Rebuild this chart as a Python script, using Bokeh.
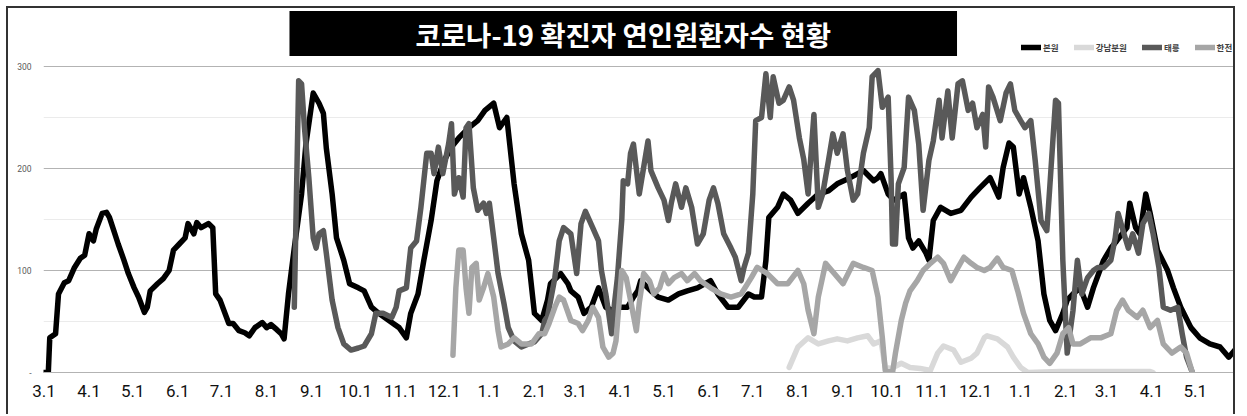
from bokeh.plotting import figure
from bokeh.models import FixedTicker, Label, Legend, LegendItem, ColumnDataSource
from bokeh.embed import file_html
from bokeh.resources import INLINE

# ---------------- data (x = days since 2020-03-01) ----------------
tick_days = [0, 31, 61, 92, 122, 153, 184, 214, 245, 275, 306, 337, 365,
             396, 426, 457, 487, 518, 549, 579, 610, 640, 671, 702, 730, 761, 791]
tick_labels = ["3.1", "4.1", "5.1", "6.1", "7.1", "8.1", "9.1", "10.1", "11.1",
               "12.1", "1.1", "2.1", "3.1", "4.1", "5.1", "6.1", "7.1", "8.1",
               "9.1", "10.1", "11.1", "12.1", "1.1", "2.1", "3.1", "4.1", "5.1"]

series_names = ["본원", "강남분원", "태릉", "한전"]
series_colors = ["#000000", "#d9d9d9", "#595959", "#a6a6a6"]

bon_day = [0, 3, 4, 8, 10, 14, 17, 21, 25, 28, 31, 34, 36, 40, 43, 45, 48, 51, 55, 58, 62, 65, 69, 71,
           73, 78, 82, 86, 89, 93, 97, 99, 103, 105, 108, 113, 116, 118, 121, 127, 130, 134, 138,
           141, 145, 150, 153, 156, 160, 163, 165, 168, 172, 177, 180, 185, 189, 192, 194, 198,
           201, 206, 210, 216, 220, 225, 230, 237, 244, 249, 252, 257, 261, 266, 270, 275, 280,
           285, 292, 298, 303, 309, 313, 318, 320, 323, 328, 333, 337, 342, 346, 348, 355, 360,
           362, 367, 371, 376, 381, 386, 390, 394, 401, 405, 408, 410, 417, 422, 429, 436, 442,
           449, 458, 463, 470, 477, 484, 488, 493, 496, 498, 504, 508, 513, 518, 525, 532, 539,
           545, 554, 563, 570, 573, 575, 580, 584, 591, 594, 597, 601, 606, 608, 611, 616, 623,
           630, 637, 643, 650, 656, 659, 663, 666, 670, 673, 678, 683, 687, 691, 695, 700, 703,
           707, 712, 717, 721, 728, 733, 737, 744, 746, 750, 753, 757, 760, 765, 772, 776, 781,
           788, 794, 801, 808, 814, 820]
bon_val = [0, 0, 34, 38, 77, 88, 90, 103, 112, 115, 136, 129, 141, 156, 157, 152, 139, 126, 110, 97,
           83, 74, 59, 64, 80, 87, 92, 100, 120, 126, 132, 146, 136, 147, 142, 146, 142, 77, 71, 48,
           48, 41, 39, 36, 44, 49, 44, 47, 42, 38, 33, 77, 122, 175, 224, 274, 264, 254, 220, 175,
           132, 110, 87, 83, 80, 64, 58, 51, 44, 34, 58, 77, 110, 149, 188, 208, 221, 230, 240, 247,
           257, 264, 240, 250, 224, 185, 136, 110, 58, 51, 71, 87, 97, 87, 80, 74, 58, 64, 83, 64,
           61, 64, 64, 74, 80, 90, 80, 74, 71, 77, 80, 83, 90, 77, 64, 64, 77, 74, 74, 110, 152,
           162, 175, 169, 156, 166, 175, 178, 185, 191, 198, 188, 191, 195, 175, 169, 175, 132,
           122, 129, 117, 110, 149, 162, 156, 159, 172, 181, 191, 172, 201, 225, 221, 175, 191,
           162, 129, 77, 51, 41, 58, 71, 77, 83, 64, 83, 110, 122, 129, 142, 166, 142, 136, 175,
           156, 120, 100, 83, 64, 44, 34, 28, 25, 15, 25]

gangnam_day = [512, 518, 525, 532, 539, 545, 552, 559, 566, 570, 575, 578, 582, 589, 595, 602, 609,
               614, 618, 625, 630, 637, 641, 646, 648, 655, 662, 666, 671, 676, 698, 726, 760, 762]
gangnam_val = [5, 25, 34, 28, 31, 33, 31, 34, 36, 28, 31, 5, 4, 9, 5, 4, 2,
               19, 26, 22, 10, 14, 19, 34, 36, 33, 25, 15, 5, 0, 1, 1, 1, 0]

taereung_day = [172, 175, 177, 179, 182, 185, 187, 189, 192, 194, 198, 202, 206, 211, 216, 220, 225,
                228, 233, 239, 242, 244, 249, 252, 256, 259, 263, 266, 268, 271, 274, 278, 280, 282,
                285, 288, 290, 292, 295, 298, 302, 304, 306, 309, 312, 316, 319, 323, 328, 333, 337,
                342, 344, 346, 351, 354, 357, 362, 366, 369, 372, 377, 381, 383, 386, 388, 390, 392,
                394, 397, 398, 401, 403, 405, 409, 412, 415, 417, 422, 426, 429, 431, 434, 438, 441,
                445, 449, 453, 457, 460, 463, 467, 472, 475, 479, 481, 484, 487, 489, 493, 496, 499,
                501, 505, 508, 512, 515, 519, 522, 525, 529, 532, 535, 539, 542, 545, 549, 552, 556,
                559, 563, 567, 569, 573, 576, 580, 582, 583, 585, 587, 591, 594, 598, 601, 604, 608,
                611, 615, 617, 621, 624, 628, 631, 635, 638, 641, 645, 647, 649, 652, 657, 661, 664,
                667, 671, 674, 678, 681, 685, 689, 691, 695, 697, 700, 703, 707, 710, 713, 717, 721,
                724, 728, 733, 736, 738, 742, 745, 748, 752, 755, 759, 762, 766, 769, 774, 779, 782,
                785, 789]
taereung_val = [64, 286, 283, 240, 191, 132, 122, 136, 139, 117, 71, 44, 28, 22, 24, 26, 38,
                58, 58, 54, 64, 80, 83, 122, 129, 162, 215, 215, 195, 221, 195, 224, 244, 175,
                191, 172, 240, 244, 181, 159, 166, 156, 166, 132, 97, 68, 44, 31, 25, 28, 30,
                38, 51, 55, 93, 129, 142, 136, 97, 146, 158, 142, 129, 100, 77, 58, 38, 68,
                93, 150, 188, 185, 215, 224, 175, 201, 227, 198, 181, 169, 149, 166, 185, 162, 181,
                162, 126, 136, 169, 181, 166, 136, 122, 113, 90, 103, 117, 175, 247, 250, 293, 250,
                290, 264, 267, 280, 267, 230, 209, 175, 253, 162, 175, 208, 234, 215, 234, 198, 169,
                175, 215, 240, 290, 296, 260, 270, 191, 126, 126, 185, 201, 270, 257, 224, 159, 208,
                227, 267, 230, 276, 230, 283, 286, 257, 264, 240, 253, 221, 280, 270, 247, 274, 283,
                257, 247, 240, 247, 208, 149, 139, 181, 267, 264, 110, 19, 61, 110, 77, 93, 100,
                103, 103, 110, 132, 156, 136, 122, 136, 117, 146, 156, 136, 103, 64, 61, 64, 38,
                15, 0]

hanjeon_day = [281, 283, 285, 288, 290, 292, 294, 297, 299, 302, 305, 309, 312, 314, 319, 323, 328,
               335, 340, 344, 347, 351, 354, 357, 362, 367, 370, 374, 377, 381, 384, 388, 391, 393,
               397, 400, 403, 407, 409, 412, 416, 419, 423, 426, 429, 433, 438, 442, 447, 451, 458,
               465, 472, 479, 486, 490, 497, 504, 511, 518, 522, 525, 529, 532, 537, 543, 549, 556,
               563, 569, 573, 576, 578, 583, 585, 589, 592, 595, 600, 604, 609, 614, 618, 623, 628,
               632, 637, 641, 646, 650, 655, 659, 665, 669, 673, 678, 683, 687, 691, 696, 700, 704,
               707, 712, 719, 726, 733, 737, 741, 745, 751, 755, 760, 765, 769, 775, 781, 785, 789]
hanjeon_val = [17, 83, 120, 120, 83, 58, 103, 107, 71, 83, 97, 74, 41, 25, 28, 34, 28,
               28, 38, 38, 48, 64, 74, 71, 51, 48, 41, 51, 64, 54, 25, 15, 19, 31,
               100, 93, 71, 41, 68, 97, 90, 77, 83, 97, 87, 93, 97, 90, 97, 90, 83,
               77, 74, 77, 93, 103, 97, 87, 87, 100, 87, 61, 38, 74, 107, 97, 87, 107,
               103, 100, 74, 34, 2, 0, 19, 51, 68, 80, 90, 100, 107, 113, 107, 90, 103,
               113, 107, 103, 100, 103, 112, 103, 100, 80, 58, 38, 28, 15, 9, 19, 38, 44,
               28, 28, 34, 34, 38, 61, 71, 61, 54, 61, 44, 51, 28, 19, 25, 19, 0]

y_ticks = [0, 100, 200, 300]
y_minor = [50, 150, 250]
title_text = "코로나-19 확진자 연인원환자수 현황"

# ---------------- figure ----------------
# the frame reaches the top of the figure so the title box and legend sit inside it;
# 300 lands on the top gridline, the head-room above holds title + legend
p = figure(width=1229, height=408, x_range=(-0.3, 820), y_range=(0, 356.9),
           output_backend="svg", toolbar_location=None,
           min_border_left=35, min_border_right=0, min_border_top=0, min_border_bottom=44,
           background_fill_color="white", border_fill_color="white")
p.outline_line_color = None
p.styles = {"border": "2px solid #333333", "border-bottom": "none", "margin": "6px 0 0 6px"}

days = [bon_day, gangnam_day, taereung_day, hanjeon_day]
vals = [bon_val, gangnam_val, taereung_val, hanjeon_val]
renderers = []
for name, color, d, v in zip(series_names, series_colors, days, vals):
    src = ColumnDataSource(dict(x=d, y=v))
    r = p.line("x", "y", source=src, line_color=color, line_width=5.5,
               line_join="round", line_cap="round")
    renderers.append(r)

# axes
p.xgrid.visible = False
p.ygrid.ticker = FixedTicker(ticks=y_ticks, minor_ticks=y_minor)
p.ygrid.grid_line_color = "#b3b3b3"
p.ygrid.grid_line_width = 1.2
p.ygrid.minor_grid_line_color = "#ebebeb"
p.ygrid.minor_grid_line_width = 1

p.yaxis.ticker = FixedTicker(ticks=y_ticks)
p.yaxis.major_label_overrides = {0: "-"}
p.yaxis.axis_line_color = None
p.yaxis.major_tick_line_color = None
p.yaxis.minor_tick_line_color = None
p.yaxis.major_label_text_font = "Roboto"
p.yaxis.major_label_text_font_size = "8.5px"
p.yaxis.major_label_text_color = "#595959"
p.yaxis.major_label_standoff = 6

p.xaxis.ticker = FixedTicker(ticks=tick_days)
p.xaxis.major_label_overrides = {d: lab for d, lab in zip(tick_days, tick_labels)}
p.xaxis.axis_line_color = "#b3b3b3"
p.xaxis.axis_line_width = 1.2
p.xaxis.major_tick_line_color = None
p.xaxis.minor_tick_line_color = None
p.xaxis.major_label_text_font = "Roboto"
p.xaxis.major_label_text_font_size = "17px"
p.xaxis.major_label_text_color = "#111111"
p.xaxis.major_label_standoff = 6

# title box
title = Label(x=398, y=332.4, text=title_text,
              text_color="white", text_font="Noto Sans CJK KR", text_font_style="bold",
              text_font_size="27.5px", text_align="center", text_baseline="middle",
              background_fill_color="black",
              padding=dict(left=126, right=126, top=3, bottom=2))
p.add_layout(title)

# legend
items = [LegendItem(label=n, renderers=[r]) for n, r in zip(series_names, renderers)]
legend = Legend(items=items, orientation="horizontal", location=(978, 319),
                background_fill_alpha=0, border_line_color=None,
                label_text_font="Noto Sans CJK KR", label_text_font_style="bold",
                label_text_font_size="8.5px", label_text_color="#404040",
                glyph_width=20, glyph_height=10, spacing=15, padding=0, margin=0,
                label_standoff=2, label_width=10)
p.add_layout(legend)

open("out.html", "w").write(file_html(p, INLINE))
